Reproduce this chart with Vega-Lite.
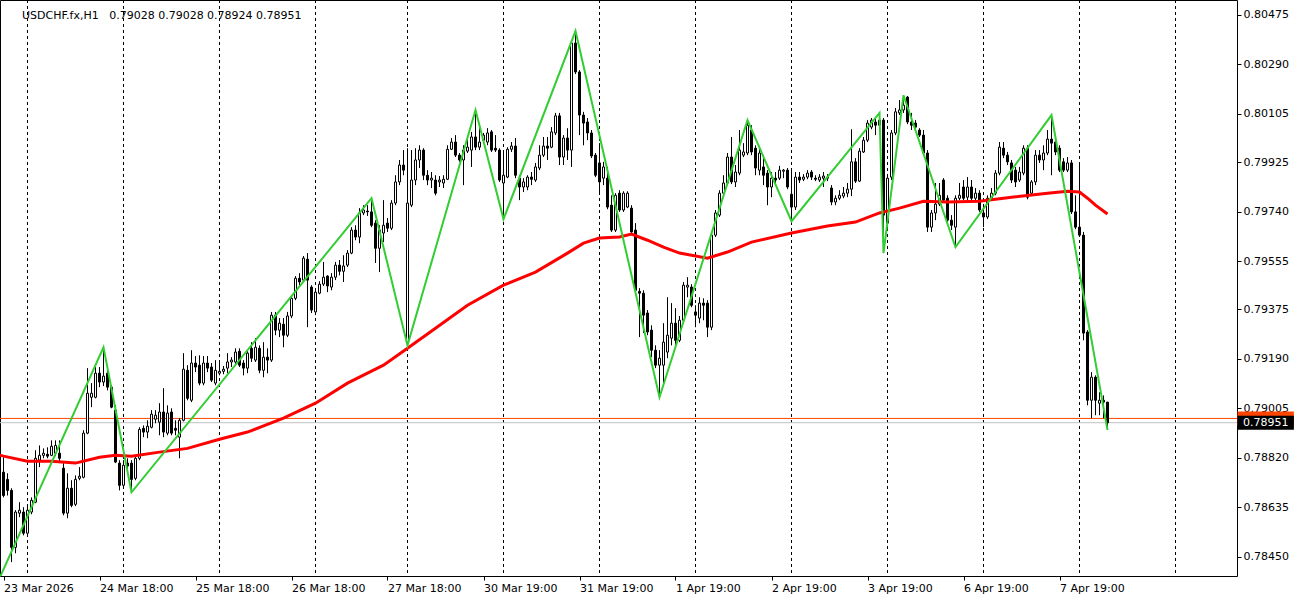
{
"$schema": "https://vega.github.io/schema/vega-lite/v6.json",
"width": 1237, "height": 576, "padding": {"left": 0, "top": 0, "right": 63, "bottom": 24}, "autosize": {"type": "none"},
"background": "#FFFFFF",
"config": {"view": {"stroke": "#000000", "strokeWidth": 1}, "font": "DejaVu Sans",
 "axis": {"labelFont": "DejaVu Sans", "labelFontSize": 11, "labelColor": "#000000", "tickColor": "#000000", "tickSize": 4, "tickWidth": 1, "labelPadding": 2, "domain": false, "grid": false, "labelOverlap": false, "labelFlush": false, "labelBound": false}},
"title": {"text": "USDCHF.fx,H1\u00a0\u00a0\u00a00.79028 0.79028 0.78924 0.78951", "anchor": "start", "frame": "group", "dx": 22, "offset": -30, "baseline": "alphabetic", "font": "DejaVu Sans", "fontSize": 11, "fontWeight": "normal", "color": "#000000"},
"datasets": {
"days": [{"d":6},{"d":30},{"d":54},{"d":78},{"d":101},{"d":125},{"d":149},{"d":173},{"d":197},{"d":221},{"d":245},{"d":269},{"d":293}],
"plines": [{"kind":"ask","p":0.78967},{"kind":"bid","p":0.78951}],
"zz": [{"i":-3,"v":0.78303},{"i":25,"v":0.79233},{"i":32,"v":0.78691},{"i":92,"v":0.7979},{"i":101,"v":0.7924},{"i":118,"v":0.8012},{"i":125,"v":0.79712},{"i":143,"v":0.80415},{"i":164,"v":0.79046},{"i":186,"v":0.80082},{"i":197,"v":0.79704},{"i":219,"v":0.80109},{"i":220,"v":0.79585},{"i":225,"v":0.80175},{"i":238,"v":0.79607},{"i":262,"v":0.80101},{"i":276,"v":0.78924}],
"ma": [{"i":-1,"v":0.7883},{"i":0,"v":0.78826},{"i":6,"v":0.78807},{"i":12,"v":0.78807},{"i":18,"v":0.788},{"i":24,"v":0.78822},{"i":28,"v":0.78829},{"i":32,"v":0.78826},{"i":39,"v":0.78841},{"i":46,"v":0.78855},{"i":54,"v":0.78889},{"i":61,"v":0.78916},{"i":70,"v":0.78968},{"i":78,"v":0.79024},{"i":86,"v":0.79099},{"i":95,"v":0.79166},{"i":101,"v":0.79229},{"i":108,"v":0.79304},{"i":116,"v":0.7939},{"i":125,"v":0.79465},{"i":133,"v":0.79514},{"i":141,"v":0.79585},{"i":145,"v":0.79622},{"i":149,"v":0.79641},{"i":154,"v":0.79645},{"i":157,"v":0.79656},{"i":161,"v":0.79633},{"i":165,"v":0.79607},{"i":169,"v":0.79585},{"i":176,"v":0.79566},{"i":181,"v":0.79589},{"i":187,"v":0.79626},{"i":197,"v":0.7966},{"i":206,"v":0.79686},{"i":213,"v":0.79701},{"i":219,"v":0.79735},{"i":224,"v":0.79753},{"i":230,"v":0.79779},{"i":236,"v":0.79776},{"i":244,"v":0.79779},{"i":252,"v":0.79794},{"i":261,"v":0.79809},{"i":266,"v":0.79816},{"i":269,"v":0.79813},{"i":271,"v":0.7979},{"i":273,"v":0.79764},{"i":276,"v":0.79731}],
"candles": [
{"i":0,"o":0.78766,"h":0.78822,"l":0.78672,"c":0.78679},
{"i":1,"o":0.78739,"h":0.78762,"l":0.78679,"c":0.78698},
{"i":2,"o":0.78698,"h":0.78706,"l":0.7843,"c":0.78485},
{"i":3,"o":0.78485,"h":0.78624,"l":0.78463,"c":0.78617},
{"i":4,"o":0.78613,"h":0.78654,"l":0.78598,"c":0.78624},
{"i":5,"o":0.78617,"h":0.78635,"l":0.7853,"c":0.78538},
{"i":6,"o":0.78538,"h":0.78642,"l":0.7853,"c":0.78624},
{"i":7,"o":0.78617,"h":0.78672,"l":0.78609,"c":0.78661},
{"i":8,"o":0.78654,"h":0.78848,"l":0.7865,"c":0.78818},
{"i":9,"o":0.78811,"h":0.78866,"l":0.78785,"c":0.78829},
{"i":10,"o":0.78829,"h":0.78855,"l":0.78818,"c":0.78837},
{"i":11,"o":0.78833,"h":0.78859,"l":0.78818,"c":0.78826},
{"i":12,"o":0.78829,"h":0.78885,"l":0.78826,"c":0.78863},
{"i":13,"o":0.78837,"h":0.78885,"l":0.78826,"c":0.78866},
{"i":14,"o":0.78837,"h":0.78885,"l":0.788,"c":0.78818},
{"i":15,"o":0.78781,"h":0.788,"l":0.78605,"c":0.78613},
{"i":16,"o":0.78613,"h":0.78762,"l":0.78594,"c":0.78706},
{"i":17,"o":0.78706,"h":0.78736,"l":0.78635,"c":0.78642},
{"i":18,"o":0.78646,"h":0.78754,"l":0.78639,"c":0.78739},
{"i":19,"o":0.78743,"h":0.78785,"l":0.78736,"c":0.78751},
{"i":20,"o":0.78747,"h":0.78923,"l":0.78743,"c":0.78912},
{"i":21,"o":0.78912,"h":0.79155,"l":0.78908,"c":0.79061},
{"i":22,"o":0.79046,"h":0.79099,"l":0.79009,"c":0.79061},
{"i":23,"o":0.79046,"h":0.79159,"l":0.79042,"c":0.79136},
{"i":24,"o":0.79136,"h":0.79159,"l":0.79084,"c":0.79103},
{"i":25,"o":0.79103,"h":0.79233,"l":0.79088,"c":0.79125},
{"i":26,"o":0.79136,"h":0.79147,"l":0.79072,"c":0.79084},
{"i":27,"o":0.79084,"h":0.79091,"l":0.79005,"c":0.79009},
{"i":28,"o":0.78998,"h":0.79016,"l":0.788,"c":0.78804},
{"i":29,"o":0.788,"h":0.78811,"l":0.78698,"c":0.78717},
{"i":30,"o":0.78717,"h":0.78811,"l":0.7871,"c":0.78792},
{"i":31,"o":0.788,"h":0.78818,"l":0.78773,"c":0.78789},
{"i":32,"o":0.788,"h":0.78811,"l":0.78691,"c":0.78739},
{"i":33,"o":0.78743,"h":0.78829,"l":0.78736,"c":0.78818},
{"i":34,"o":0.78818,"h":0.78934,"l":0.78811,"c":0.78926},
{"i":35,"o":0.7893,"h":0.78941,"l":0.78897,"c":0.78916},
{"i":36,"o":0.78916,"h":0.7896,"l":0.78893,"c":0.78938},
{"i":37,"o":0.78934,"h":0.78998,"l":0.7893,"c":0.78983},
{"i":38,"o":0.78964,"h":0.78998,"l":0.78949,"c":0.78979},
{"i":39,"o":0.78953,"h":0.79024,"l":0.78904,"c":0.78991},
{"i":40,"o":0.78991,"h":0.7908,"l":0.78897,"c":0.78916},
{"i":41,"o":0.78912,"h":0.79016,"l":0.78904,"c":0.78987},
{"i":42,"o":0.78991,"h":0.79005,"l":0.78904,"c":0.78912},
{"i":43,"o":0.7893,"h":0.7896,"l":0.78904,"c":0.78923},
{"i":44,"o":0.78897,"h":0.78968,"l":0.78818,"c":0.7896},
{"i":45,"o":0.7896,"h":0.79211,"l":0.78956,"c":0.79151},
{"i":46,"o":0.79147,"h":0.79166,"l":0.79035,"c":0.79042},
{"i":47,"o":0.79035,"h":0.79222,"l":0.79028,"c":0.79174},
{"i":48,"o":0.79174,"h":0.792,"l":0.7914,"c":0.79159},
{"i":49,"o":0.79166,"h":0.79203,"l":0.79091,"c":0.79099},
{"i":50,"o":0.79099,"h":0.792,"l":0.79091,"c":0.79174},
{"i":51,"o":0.79174,"h":0.792,"l":0.7914,"c":0.79155},
{"i":52,"o":0.79159,"h":0.79174,"l":0.79103,"c":0.7911},
{"i":53,"o":0.79099,"h":0.79185,"l":0.79091,"c":0.79147},
{"i":54,"o":0.79136,"h":0.79178,"l":0.79128,"c":0.79143},
{"i":55,"o":0.79143,"h":0.79163,"l":0.79132,"c":0.79151},
{"i":56,"o":0.79155,"h":0.79211,"l":0.79136,"c":0.79178},
{"i":57,"o":0.79178,"h":0.79196,"l":0.79159,"c":0.79185},
{"i":58,"o":0.79178,"h":0.79229,"l":0.7917,"c":0.79215},
{"i":59,"o":0.79218,"h":0.79229,"l":0.79159,"c":0.79166},
{"i":60,"o":0.79174,"h":0.79185,"l":0.79128,"c":0.79155},
{"i":61,"o":0.79155,"h":0.79222,"l":0.79136,"c":0.79211},
{"i":62,"o":0.79229,"h":0.79252,"l":0.79178,"c":0.79192},
{"i":63,"o":0.79185,"h":0.79267,"l":0.79178,"c":0.79233},
{"i":64,"o":0.79229,"h":0.7924,"l":0.79136,"c":0.79147},
{"i":65,"o":0.79147,"h":0.79252,"l":0.79121,"c":0.79196},
{"i":66,"o":0.79196,"h":0.79229,"l":0.79136,"c":0.79185},
{"i":67,"o":0.79185,"h":0.79365,"l":0.79178,"c":0.79353},
{"i":68,"o":0.79353,"h":0.79365,"l":0.79278,"c":0.79297},
{"i":69,"o":0.79297,"h":0.79342,"l":0.79271,"c":0.79323},
{"i":70,"o":0.79319,"h":0.79342,"l":0.79233,"c":0.79278},
{"i":71,"o":0.79278,"h":0.79365,"l":0.79271,"c":0.7935},
{"i":72,"o":0.7935,"h":0.79427,"l":0.79342,"c":0.79416},
{"i":73,"o":0.79416,"h":0.79499,"l":0.79409,"c":0.79491},
{"i":74,"o":0.79491,"h":0.7951,"l":0.79465,"c":0.79477},
{"i":75,"o":0.79484,"h":0.79574,"l":0.79477,"c":0.79566},
{"i":76,"o":0.79562,"h":0.79585,"l":0.79308,"c":0.79484},
{"i":77,"o":0.79458,"h":0.79465,"l":0.79361,"c":0.79372},
{"i":78,"o":0.79365,"h":0.79446,"l":0.79353,"c":0.79439},
{"i":79,"o":0.79435,"h":0.7948,"l":0.79431,"c":0.79469},
{"i":80,"o":0.79469,"h":0.79552,"l":0.79462,"c":0.79495},
{"i":81,"o":0.79499,"h":0.79502,"l":0.79439,"c":0.79462},
{"i":82,"o":0.79458,"h":0.7951,"l":0.79446,"c":0.79495},
{"i":83,"o":0.79495,"h":0.79552,"l":0.79484,"c":0.7954},
{"i":84,"o":0.7954,"h":0.79559,"l":0.79502,"c":0.79517},
{"i":85,"o":0.79517,"h":0.79577,"l":0.79477,"c":0.79537},
{"i":86,"o":0.7954,"h":0.79596,"l":0.79533,"c":0.79585},
{"i":87,"o":0.79585,"h":0.79682,"l":0.79581,"c":0.79671},
{"i":88,"o":0.79671,"h":0.79689,"l":0.79633,"c":0.79645},
{"i":89,"o":0.79645,"h":0.79753,"l":0.79622,"c":0.79735},
{"i":90,"o":0.79735,"h":0.79764,"l":0.79727,"c":0.79746},
{"i":91,"o":0.79742,"h":0.79764,"l":0.79724,"c":0.79739},
{"i":92,"o":0.79739,"h":0.7979,"l":0.79682,"c":0.79689},
{"i":93,"o":0.79697,"h":0.79708,"l":0.79548,"c":0.79603},
{"i":94,"o":0.79603,"h":0.79689,"l":0.79514,"c":0.79671},
{"i":95,"o":0.7966,"h":0.79783,"l":0.79626,"c":0.79689},
{"i":96,"o":0.79697,"h":0.79716,"l":0.79664,"c":0.79678},
{"i":97,"o":0.79678,"h":0.79783,"l":0.79671,"c":0.79772},
{"i":98,"o":0.79772,"h":0.79876,"l":0.79764,"c":0.79851},
{"i":99,"o":0.79851,"h":0.79933,"l":0.79839,"c":0.79914},
{"i":100,"o":0.79914,"h":0.7997,"l":0.79876,"c":0.79895},
{"i":101,"o":0.79252,"h":0.79977,"l":0.7924,"c":0.79772},
{"i":102,"o":0.79764,"h":0.7997,"l":0.79757,"c":0.79858},
{"i":103,"o":0.79858,"h":0.79977,"l":0.79839,"c":0.79933},
{"i":104,"o":0.79933,"h":0.79988,"l":0.79903,"c":0.7997},
{"i":105,"o":0.7997,"h":0.79977,"l":0.79858,"c":0.79876},
{"i":106,"o":0.79876,"h":0.79895,"l":0.79839,"c":0.79858},
{"i":107,"o":0.79858,"h":0.79888,"l":0.79828,"c":0.79865},
{"i":108,"o":0.79858,"h":0.79876,"l":0.79801,"c":0.79809},
{"i":109,"o":0.79851,"h":0.79873,"l":0.79832,"c":0.79858},
{"i":110,"o":0.79847,"h":0.79876,"l":0.79828,"c":0.79861},
{"i":111,"o":0.79861,"h":0.79988,"l":0.79858,"c":0.79973},
{"i":112,"o":0.79973,"h":0.80015,"l":0.7997,"c":0.8},
{"i":113,"o":0.8,"h":0.80026,"l":0.79944,"c":0.79951},
{"i":114,"o":0.79951,"h":0.79959,"l":0.79926,"c":0.79933},
{"i":115,"o":0.79933,"h":0.79988,"l":0.79839,"c":0.7997},
{"i":116,"o":0.79966,"h":0.80019,"l":0.79959,"c":0.79981},
{"i":117,"o":0.7997,"h":0.80038,"l":0.79907,"c":0.80019},
{"i":118,"o":0.80019,"h":0.8012,"l":0.7997,"c":0.79981},
{"i":119,"o":0.79981,"h":0.80052,"l":0.7997,"c":0.8},
{"i":120,"o":0.80007,"h":0.80034,"l":0.79996,"c":0.80026},
{"i":121,"o":0.8,"h":0.80052,"l":0.79988,"c":0.80034},
{"i":122,"o":0.80038,"h":0.80045,"l":0.79963,"c":0.7997},
{"i":123,"o":0.79977,"h":0.80026,"l":0.79963,"c":0.7997},
{"i":124,"o":0.7997,"h":0.79977,"l":0.79851,"c":0.79858},
{"i":125,"o":0.79847,"h":0.7997,"l":0.79712,"c":0.79876},
{"i":126,"o":0.79869,"h":0.79981,"l":0.79865,"c":0.79973},
{"i":127,"o":0.79973,"h":0.8,"l":0.79963,"c":0.79985},
{"i":128,"o":0.79985,"h":0.80015,"l":0.79865,"c":0.79876},
{"i":129,"o":0.79865,"h":0.79876,"l":0.79783,"c":0.79832},
{"i":130,"o":0.79832,"h":0.79865,"l":0.79813,"c":0.79851},
{"i":131,"o":0.79832,"h":0.79876,"l":0.7982,"c":0.79869},
{"i":132,"o":0.79869,"h":0.79888,"l":0.79839,"c":0.79861},
{"i":133,"o":0.79858,"h":0.79922,"l":0.79851,"c":0.79907},
{"i":134,"o":0.79903,"h":0.79988,"l":0.79895,"c":0.79951},
{"i":135,"o":0.79951,"h":0.80019,"l":0.79944,"c":0.79985},
{"i":136,"o":0.79985,"h":0.80019,"l":0.79933,"c":0.79977},
{"i":137,"o":0.79981,"h":0.80056,"l":0.79977,"c":0.80038},
{"i":138,"o":0.80034,"h":0.80109,"l":0.80026,"c":0.80098},
{"i":139,"o":0.80098,"h":0.80109,"l":0.79914,"c":0.79944},
{"i":140,"o":0.79944,"h":0.80026,"l":0.79914,"c":0.80015},
{"i":141,"o":0.80015,"h":0.80052,"l":0.79933,"c":0.7997},
{"i":142,"o":0.7997,"h":0.80381,"l":0.79907,"c":0.8037},
{"i":143,"o":0.8037,"h":0.80415,"l":0.80254,"c":0.80262},
{"i":144,"o":0.80262,"h":0.80269,"l":0.80026,"c":0.80101},
{"i":145,"o":0.80101,"h":0.80113,"l":0.79988,"c":0.80071},
{"i":146,"o":0.80075,"h":0.8009,"l":0.80007,"c":0.80034},
{"i":147,"o":0.80034,"h":0.80045,"l":0.7994,"c":0.79948},
{"i":148,"o":0.79951,"h":0.79959,"l":0.79869,"c":0.79876},
{"i":149,"o":0.79922,"h":0.79996,"l":0.79813,"c":0.79851},
{"i":150,"o":0.79865,"h":0.79926,"l":0.79839,"c":0.79907},
{"i":151,"o":0.79865,"h":0.79907,"l":0.79749,"c":0.79757},
{"i":152,"o":0.79764,"h":0.79801,"l":0.79664,"c":0.79671},
{"i":153,"o":0.79671,"h":0.79809,"l":0.79664,"c":0.79801},
{"i":154,"o":0.79809,"h":0.7982,"l":0.79739,"c":0.79746},
{"i":155,"o":0.79746,"h":0.79816,"l":0.79739,"c":0.79809},
{"i":156,"o":0.79757,"h":0.79816,"l":0.79753,"c":0.79809},
{"i":157,"o":0.79753,"h":0.79764,"l":0.79652,"c":0.79664},
{"i":158,"o":0.79671,"h":0.79697,"l":0.79439,"c":0.79446},
{"i":159,"o":0.79442,"h":0.79454,"l":0.79271,"c":0.79435},
{"i":160,"o":0.79435,"h":0.79446,"l":0.79286,"c":0.79353},
{"i":161,"o":0.79361,"h":0.79372,"l":0.79278,"c":0.7929},
{"i":162,"o":0.79297,"h":0.79315,"l":0.79196,"c":0.79222},
{"i":163,"o":0.79222,"h":0.7924,"l":0.79155,"c":0.79166},
{"i":164,"o":0.79166,"h":0.79222,"l":0.79046,"c":0.79192},
{"i":165,"o":0.79166,"h":0.79323,"l":0.79099,"c":0.79252},
{"i":166,"o":0.79215,"h":0.7942,"l":0.79192,"c":0.79278},
{"i":167,"o":0.79267,"h":0.79398,"l":0.7924,"c":0.79323},
{"i":168,"o":0.79323,"h":0.79379,"l":0.7924,"c":0.79259},
{"i":169,"o":0.79259,"h":0.7935,"l":0.79252,"c":0.79334},
{"i":170,"o":0.79334,"h":0.79477,"l":0.79327,"c":0.79465},
{"i":171,"o":0.79458,"h":0.79495,"l":0.7942,"c":0.79465},
{"i":172,"o":0.79458,"h":0.79469,"l":0.79383,"c":0.7939},
{"i":173,"o":0.79365,"h":0.7939,"l":0.79308,"c":0.79353},
{"i":174,"o":0.79342,"h":0.7942,"l":0.79323,"c":0.79398},
{"i":175,"o":0.79398,"h":0.79416,"l":0.79334,"c":0.7939},
{"i":176,"o":0.79398,"h":0.79409,"l":0.79271,"c":0.79308},
{"i":177,"o":0.79308,"h":0.79664,"l":0.79297,"c":0.79652},
{"i":178,"o":0.79652,"h":0.79746,"l":0.79645,"c":0.79735},
{"i":179,"o":0.79727,"h":0.7982,"l":0.7972,"c":0.79809},
{"i":180,"o":0.79809,"h":0.79876,"l":0.79801,"c":0.79847},
{"i":181,"o":0.79847,"h":0.79959,"l":0.79839,"c":0.79944},
{"i":182,"o":0.79944,"h":0.80019,"l":0.79843,"c":0.79851},
{"i":183,"o":0.79851,"h":0.79914,"l":0.79832,"c":0.79888},
{"i":184,"o":0.79884,"h":0.80045,"l":0.79876,"c":0.7997},
{"i":185,"o":0.79951,"h":0.79996,"l":0.79944,"c":0.79963},
{"i":186,"o":0.79959,"h":0.80082,"l":0.79951,"c":0.80063},
{"i":187,"o":0.80045,"h":0.80063,"l":0.79951,"c":0.79963},
{"i":188,"o":0.79977,"h":0.79988,"l":0.79876,"c":0.79903},
{"i":189,"o":0.79895,"h":0.79977,"l":0.79876,"c":0.79959},
{"i":190,"o":0.79907,"h":0.79951,"l":0.79839,"c":0.79876},
{"i":191,"o":0.79884,"h":0.79895,"l":0.79764,"c":0.79832},
{"i":192,"o":0.79832,"h":0.79888,"l":0.79794,"c":0.79865},
{"i":193,"o":0.79865,"h":0.79888,"l":0.79847,"c":0.79858},
{"i":194,"o":0.79865,"h":0.79911,"l":0.79858,"c":0.79895},
{"i":195,"o":0.79891,"h":0.79899,"l":0.79865,"c":0.79895},
{"i":196,"o":0.79895,"h":0.79903,"l":0.79824,"c":0.79832},
{"i":197,"o":0.79805,"h":0.79895,"l":0.79704,"c":0.79757},
{"i":198,"o":0.79757,"h":0.79888,"l":0.79746,"c":0.79869},
{"i":199,"o":0.79869,"h":0.79888,"l":0.79847,"c":0.79858},
{"i":200,"o":0.79861,"h":0.7988,"l":0.79854,"c":0.79869},
{"i":201,"o":0.79869,"h":0.79895,"l":0.79861,"c":0.79884},
{"i":202,"o":0.79888,"h":0.79895,"l":0.79858,"c":0.79869},
{"i":203,"o":0.79865,"h":0.79876,"l":0.79854,"c":0.79861},
{"i":204,"o":0.79858,"h":0.7988,"l":0.79851,"c":0.79869},
{"i":205,"o":0.79865,"h":0.79888,"l":0.79832,"c":0.79873},
{"i":206,"o":0.79869,"h":0.7988,"l":0.79854,"c":0.79865},
{"i":207,"o":0.79828,"h":0.79839,"l":0.79764,"c":0.79776},
{"i":208,"o":0.79776,"h":0.79801,"l":0.79764,"c":0.7979},
{"i":209,"o":0.7979,"h":0.7982,"l":0.79783,"c":0.79801},
{"i":210,"o":0.79798,"h":0.79832,"l":0.7979,"c":0.79809},
{"i":211,"o":0.79809,"h":0.79847,"l":0.79794,"c":0.79824},
{"i":212,"o":0.79824,"h":0.80048,"l":0.79798,"c":0.79926},
{"i":213,"o":0.79926,"h":0.7994,"l":0.79847,"c":0.79854},
{"i":214,"o":0.79854,"h":0.79977,"l":0.79851,"c":0.79966},
{"i":215,"o":0.79963,"h":0.80019,"l":0.79959,"c":0.80007},
{"i":216,"o":0.80007,"h":0.80082,"l":0.8,"c":0.80071},
{"i":217,"o":0.80056,"h":0.8009,"l":0.80048,"c":0.80082},
{"i":218,"o":0.80075,"h":0.8009,"l":0.80026,"c":0.80063},
{"i":219,"o":0.80063,"h":0.80109,"l":0.80052,"c":0.80082},
{"i":220,"o":0.80082,"h":0.8009,"l":0.79585,"c":0.79727},
{"i":221,"o":0.79697,"h":0.79876,"l":0.79671,"c":0.79865},
{"i":222,"o":0.79869,"h":0.80045,"l":0.79858,"c":0.80034},
{"i":223,"o":0.80034,"h":0.80127,"l":0.80026,"c":0.80113},
{"i":224,"o":0.80109,"h":0.80157,"l":0.80101,"c":0.8012},
{"i":225,"o":0.8012,"h":0.80175,"l":0.80109,"c":0.80138},
{"i":226,"o":0.80168,"h":0.80172,"l":0.80067,"c":0.80075},
{"i":227,"o":0.80075,"h":0.80109,"l":0.80045,"c":0.80063},
{"i":228,"o":0.80071,"h":0.80082,"l":0.80045,"c":0.80056},
{"i":229,"o":0.80045,"h":0.80052,"l":0.80019,"c":0.80026},
{"i":230,"o":0.80026,"h":0.80045,"l":0.79951,"c":0.79959},
{"i":231,"o":0.79959,"h":0.7997,"l":0.79664,"c":0.79682},
{"i":232,"o":0.79682,"h":0.79746,"l":0.79664,"c":0.79735},
{"i":233,"o":0.79735,"h":0.79847,"l":0.79708,"c":0.79768},
{"i":234,"o":0.79768,"h":0.79847,"l":0.79761,"c":0.79801},
{"i":235,"o":0.79858,"h":0.79865,"l":0.79776,"c":0.79783},
{"i":236,"o":0.7979,"h":0.79801,"l":0.79701,"c":0.79708},
{"i":237,"o":0.79708,"h":0.79727,"l":0.79671,"c":0.79689},
{"i":238,"o":0.79682,"h":0.79801,"l":0.79607,"c":0.7979},
{"i":239,"o":0.7979,"h":0.79847,"l":0.79783,"c":0.79801},
{"i":240,"o":0.79832,"h":0.79858,"l":0.79783,"c":0.7979},
{"i":241,"o":0.79794,"h":0.79869,"l":0.79783,"c":0.79832},
{"i":242,"o":0.79832,"h":0.79858,"l":0.79783,"c":0.7979},
{"i":243,"o":0.7979,"h":0.79828,"l":0.79776,"c":0.79809},
{"i":244,"o":0.79809,"h":0.7982,"l":0.79739,"c":0.79746},
{"i":245,"o":0.79735,"h":0.79764,"l":0.79682,"c":0.7972},
{"i":246,"o":0.7972,"h":0.79801,"l":0.79712,"c":0.7979},
{"i":247,"o":0.7979,"h":0.79828,"l":0.79783,"c":0.79809},
{"i":248,"o":0.79809,"h":0.79895,"l":0.79801,"c":0.79884},
{"i":249,"o":0.79884,"h":0.8,"l":0.79876,"c":0.79981},
{"i":250,"o":0.79977,"h":0.8,"l":0.7994,"c":0.79951},
{"i":251,"o":0.79951,"h":0.79963,"l":0.79914,"c":0.79926},
{"i":252,"o":0.79922,"h":0.79933,"l":0.79847,"c":0.79858},
{"i":253,"o":0.79895,"h":0.79907,"l":0.79832,"c":0.79851},
{"i":254,"o":0.79858,"h":0.79907,"l":0.79851,"c":0.79888},
{"i":255,"o":0.79884,"h":0.79988,"l":0.79876,"c":0.79977},
{"i":256,"o":0.79977,"h":0.79988,"l":0.79786,"c":0.79794},
{"i":257,"o":0.79809,"h":0.79858,"l":0.79798,"c":0.79851},
{"i":258,"o":0.79851,"h":0.7997,"l":0.79839,"c":0.79951},
{"i":259,"o":0.79951,"h":0.7997,"l":0.79922,"c":0.79933},
{"i":260,"o":0.79933,"h":0.79988,"l":0.79895,"c":0.79959},
{"i":261,"o":0.79959,"h":0.80045,"l":0.79951,"c":0.80011},
{"i":262,"o":0.80011,"h":0.80101,"l":0.79876,"c":0.79996},
{"i":263,"o":0.8,"h":0.80026,"l":0.79951,"c":0.79963},
{"i":264,"o":0.79977,"h":0.79988,"l":0.79888,"c":0.79895},
{"i":265,"o":0.79926,"h":0.7994,"l":0.79888,"c":0.79895},
{"i":266,"o":0.79895,"h":0.79944,"l":0.79888,"c":0.79922},
{"i":267,"o":0.79922,"h":0.79933,"l":0.79731,"c":0.79739},
{"i":268,"o":0.79739,"h":0.79801,"l":0.79674,"c":0.79682},
{"i":269,"o":0.79682,"h":0.79922,"l":0.79645,"c":0.79652},
{"i":270,"o":0.79652,"h":0.79664,"l":0.79259,"c":0.79286},
{"i":271,"o":0.7929,"h":0.79297,"l":0.79016,"c":0.79035},
{"i":272,"o":0.79035,"h":0.7914,"l":0.78968,"c":0.79121},
{"i":273,"o":0.79121,"h":0.79128,"l":0.78979,"c":0.79035},
{"i":274,"o":0.79024,"h":0.79065,"l":0.78979,"c":0.79035},
{"i":275,"o":0.79035,"h":0.79053,"l":0.78968,"c":0.79028},
{"i":276,"o":0.79028,"h":0.79028,"l":0.78924,"c":0.78951}
]},
"layer": [
{"data": {"name": "days"}, "mark": {"type": "rule", "color": "#000000", "strokeWidth": 1, "strokeDash": [3, 3]},
 "encoding": {"x": {"field": "d", "type": "quantitative", "scale": {"domain": [-0.75, 308.5], "range": [0.5, 1237.5], "nice": false, "zero": false, "padding": 0},
   "axis": {"values": [0, 24, 48, 72, 96, 120, 144, 168, 192, 216, 240, 264], "labelExpr": "['23 Mar 2026','24 Mar 18:00','25 Mar 18:00','26 Mar 18:00','27 Mar 18:00','30 Mar 19:00','31 Mar 19:00','1 Apr 19:00','2 Apr 19:00','3 Apr 19:00','6 Apr 19:00','7 Apr 19:00'][round(datum.value/24)]", "labelAlign": "left", "title": null}}}},
{"data": {"name": "plines"}, "mark": {"type": "rule", "strokeWidth": 1},
 "encoding": {"y": {"field": "p", "type": "quantitative", "scale": {"domain": [0.78378, 0.80531], "nice": false, "zero": false, "padding": 0},
   "axis": {"orient": "right", "values": [0.80475, 0.8029, 0.80105, 0.79925, 0.7974, 0.79555, 0.79375, 0.7919, 0.79005, 0.7882, 0.78635, 0.7845], "format": ".5f", "title": null}},
  "stroke": {"field": "kind", "type": "nominal", "scale": {"domain": ["ask", "bid"], "range": ["#FF4500", "#C0C0C0"]}, "legend": null}}},
{"data": {"name": "candles"}, "mark": {"type": "rule", "color": "#000000", "strokeWidth": 1},
 "encoding": {
  "x": {"field": "i", "type": "quantitative", "scale": {"domain": [-0.75, 308.5], "range": [0.5, 1237.5], "nice": false, "zero": false, "padding": 0},
   "axis": {"values": [0, 24, 48, 72, 96, 120, 144, 168, 192, 216, 240, 264], "labelExpr": "['23 Mar 2026','24 Mar 18:00','25 Mar 18:00','26 Mar 18:00','27 Mar 18:00','30 Mar 19:00','31 Mar 19:00','1 Apr 19:00','2 Apr 19:00','3 Apr 19:00','6 Apr 19:00','7 Apr 19:00'][round(datum.value/24)]", "labelAlign": "left", "title": null}},
  "y": {"field": "l", "type": "quantitative", "scale": {"domain": [0.78378, 0.80531], "nice": false, "zero": false, "padding": 0},
   "axis": {"orient": "right", "values": [0.80475, 0.8029, 0.80105, 0.79925, 0.7974, 0.79555, 0.79375, 0.7919, 0.79005, 0.7882, 0.78635, 0.7845], "format": ".5f", "title": null}},
  "y2": {"field": "h"}}},
{"data": {"name": "candles"}, "mark": {"type": "bar", "width": 2, "stroke": "#000000", "strokeWidth": 1},
 "encoding": {
  "x": {"field": "i", "type": "quantitative", "scale": {"domain": [-0.75, 308.5], "range": [0.5, 1237.5], "nice": false, "zero": false, "padding": 0},
   "axis": {"values": [0, 24, 48, 72, 96, 120, 144, 168, 192, 216, 240, 264], "labelExpr": "['23 Mar 2026','24 Mar 18:00','25 Mar 18:00','26 Mar 18:00','27 Mar 18:00','30 Mar 19:00','31 Mar 19:00','1 Apr 19:00','2 Apr 19:00','3 Apr 19:00','6 Apr 19:00','7 Apr 19:00'][round(datum.value/24)]", "labelAlign": "left", "title": null}},
  "y": {"field": "o", "type": "quantitative", "scale": {"domain": [0.78378, 0.80531], "nice": false, "zero": false, "padding": 0},
   "axis": {"orient": "right", "values": [0.80475, 0.8029, 0.80105, 0.79925, 0.7974, 0.79555, 0.79375, 0.7919, 0.79005, 0.7882, 0.78635, 0.7845], "format": ".5f", "title": null}},
  "y2": {"field": "c"},
  "fill": {"condition": {"test": "datum.o > datum.c", "value": "#000000"}, "value": "#FFFFFF"}}},
{"data": {"name": "ma"}, "mark": {"type": "line", "color": "#FF0000", "strokeWidth": 3, "clip": true},
 "encoding": {
  "x": {"field": "i", "type": "quantitative", "scale": {"domain": [-0.75, 308.5], "range": [0.5, 1237.5], "nice": false, "zero": false, "padding": 0},
   "axis": {"values": [0, 24, 48, 72, 96, 120, 144, 168, 192, 216, 240, 264], "labelExpr": "['23 Mar 2026','24 Mar 18:00','25 Mar 18:00','26 Mar 18:00','27 Mar 18:00','30 Mar 19:00','31 Mar 19:00','1 Apr 19:00','2 Apr 19:00','3 Apr 19:00','6 Apr 19:00','7 Apr 19:00'][round(datum.value/24)]", "labelAlign": "left", "title": null}},
  "y": {"field": "v", "type": "quantitative", "scale": {"domain": [0.78378, 0.80531], "nice": false, "zero": false, "padding": 0},
   "axis": {"orient": "right", "values": [0.80475, 0.8029, 0.80105, 0.79925, 0.7974, 0.79555, 0.79375, 0.7919, 0.79005, 0.7882, 0.78635, 0.7845], "format": ".5f", "title": null}}}},
{"data": {"name": "zz"}, "mark": {"type": "line", "color": "#32CD32", "strokeWidth": 2, "clip": true},
 "encoding": {
  "x": {"field": "i", "type": "quantitative", "scale": {"domain": [-0.75, 308.5], "range": [0.5, 1237.5], "nice": false, "zero": false, "padding": 0},
   "axis": {"values": [0, 24, 48, 72, 96, 120, 144, 168, 192, 216, 240, 264], "labelExpr": "['23 Mar 2026','24 Mar 18:00','25 Mar 18:00','26 Mar 18:00','27 Mar 18:00','30 Mar 19:00','31 Mar 19:00','1 Apr 19:00','2 Apr 19:00','3 Apr 19:00','6 Apr 19:00','7 Apr 19:00'][round(datum.value/24)]", "labelAlign": "left", "title": null}},
  "y": {"field": "v", "type": "quantitative", "scale": {"domain": [0.78378, 0.80531], "nice": false, "zero": false, "padding": 0},
   "axis": {"orient": "right", "values": [0.80475, 0.8029, 0.80105, 0.79925, 0.7974, 0.79555, 0.79375, 0.7919, 0.79005, 0.7882, 0.78635, 0.7845], "format": ".5f", "title": null}}}},
{"data": {"name": "plines"}, "mark": {"type": "bar", "height": 14},
 "encoding": {
  "x": {"datum": 308.5, "type": "quantitative", "scale": {"domain": [-0.75, 308.5], "range": [0.5, 1237.5], "nice": false, "zero": false, "padding": 0},
   "axis": {"values": [0, 24, 48, 72, 96, 120, 144, 168, 192, 216, 240, 264], "labelExpr": "['23 Mar 2026','24 Mar 18:00','25 Mar 18:00','26 Mar 18:00','27 Mar 18:00','30 Mar 19:00','31 Mar 19:00','1 Apr 19:00','2 Apr 19:00','3 Apr 19:00','6 Apr 19:00','7 Apr 19:00'][round(datum.value/24)]", "labelAlign": "left", "title": null}},
  "x2": {"datum": 322.6},
  "y": {"field": "p", "type": "quantitative", "scale": {"domain": [0.78378, 0.80531], "nice": false, "zero": false, "padding": 0},
   "axis": {"orient": "right", "values": [0.80475, 0.8029, 0.80105, 0.79925, 0.7974, 0.79555, 0.79375, 0.7919, 0.79005, 0.7882, 0.78635, 0.7845], "format": ".5f", "title": null}},
  "fill": {"field": "kind", "type": "nominal", "scale": {"domain": ["ask", "bid"], "range": ["#FF4500", "#000000"]}, "legend": null}}},
{"data": {"name": "plines"}, "transform": [{"filter": "datum.kind == 'bid'"}],
 "mark": {"type": "text", "align": "left", "baseline": "middle", "color": "#FFFFFF", "font": "DejaVu Sans", "fontSize": 11},
 "encoding": {
  "x": {"datum": 309.9, "type": "quantitative", "scale": {"domain": [-0.75, 308.5], "range": [0.5, 1237.5], "nice": false, "zero": false, "padding": 0},
   "axis": {"values": [0, 24, 48, 72, 96, 120, 144, 168, 192, 216, 240, 264], "labelExpr": "['23 Mar 2026','24 Mar 18:00','25 Mar 18:00','26 Mar 18:00','27 Mar 18:00','30 Mar 19:00','31 Mar 19:00','1 Apr 19:00','2 Apr 19:00','3 Apr 19:00','6 Apr 19:00','7 Apr 19:00'][round(datum.value/24)]", "labelAlign": "left", "title": null}},
  "y": {"field": "p", "type": "quantitative", "scale": {"domain": [0.78378, 0.80531], "nice": false, "zero": false, "padding": 0},
   "axis": {"orient": "right", "values": [0.80475, 0.8029, 0.80105, 0.79925, 0.7974, 0.79555, 0.79375, 0.7919, 0.79005, 0.7882, 0.78635, 0.7845], "format": ".5f", "title": null}},
  "text": {"field": "p", "type": "quantitative", "format": ".5f"}}}
]
}
